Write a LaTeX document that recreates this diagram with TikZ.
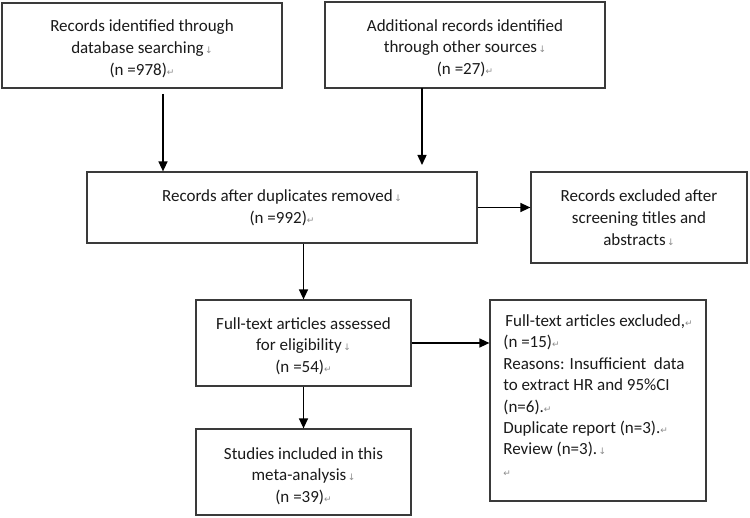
\documentclass[tikz,border=0pt]{standalone}
\usepackage{fontspec}
\setmainfont{Carlito}
\newfontfamily\markfont{DejaVu Sans}
\usetikzlibrary{arrows.meta}
\definecolor{boxgray}{HTML}{3A3A3A}
\definecolor{txt}{HTML}{1A1A1A}
\definecolor{marks}{HTML}{8C8C8C}
\newcommand{\lbmk}{{\markfont\fontsize{9}{9}\selectfont\textcolor{marks}{\,↓}}}
\newcommand{\pgmk}{{\markfont\fontsize{9}{9}\selectfont\textcolor{marks}{↵}}}
\newcommand{\dn}{\rule{0pt}{18pt}}
\begin{document}
\begin{tikzpicture}[x=1pt,y=-1pt,
  box/.style={draw=boxgray, line width=1.2pt, inner sep=0pt, align=center,
    font=\fontsize{17}{21.7}\selectfont, text=txt},
  leftbox/.style={box, align=left, font=\fontsize{17}{21.4}\selectfont},
  arr/.style={draw=black, line width=1.4pt, -{Triangle[length=10pt,width=9pt]}}]
\useasboundingbox (0,0) rectangle (750,518);
\fill[white] (0,0) rectangle (750,518);

\node[box, minimum width=280pt, minimum height=85pt] (b1) at (142,45.5)
  {\dn Records identified through\\database searching\lbmk\\(n =978)\pgmk};
\node[box, minimum width=280pt, minimum height=86pt] (b2) at (465,45)
  {\dn Additional records identified\\through other sources\lbmk\\(n =27)\pgmk};
\node[box, minimum width=390pt, minimum height=71pt] (b3) at (282,207.5)
  {Records after duplicates removed\lbmk\\(n =992)\pgmk};
\node[box, minimum width=216pt, minimum height=91pt] (e1) at (639,217.5)
  {Records excluded after\\screening titles and\\abstracts\lbmk};
\node[box, minimum width=215pt, minimum height=86pt] (b4) at (303.5,343)
  {\dn Full-text articles assessed\\for eligibility\lbmk\\(n =54)\pgmk};
\node[box, minimum width=215pt, minimum height=86pt] (b5) at (303.5,472)
  {\rule{0pt}{20pt}Studies included in this\\meta-analysis\lbmk\\(n =39)\pgmk};
\node[leftbox, minimum width=216pt, minimum height=201pt] (e2) at (598,400.5)
  {\hspace{2pt}Full-text articles excluded,\pgmk\\(n =15)\pgmk\\Reasons: Insufficient\ \ data\\to extract HR and 95\%CI\\(n=6).\pgmk\\Duplicate report (n=3).\pgmk\\Review (n=3).\lbmk\\\rule[-10pt]{0pt}{1pt}\pgmk};

\coordinate (a1s) at (163,94);
\coordinate (a2s) at (422,88);
\coordinate (a2e) at (422,165);
\draw[arr] (a1s) -- (a1s |- b3.north);
\draw[arr] (a2s) -- (a2e);
\draw[arr] (b3.east) -- (b3.east -| e1.west);
\draw[arr] (b4.north |- b3.south) -- (b4.north);
\draw[arr] (b4.south) -- (b5.north);
\draw[arr] (b4.east) -- (b4.east -| e2.west);
\end{tikzpicture}
\end{document}
